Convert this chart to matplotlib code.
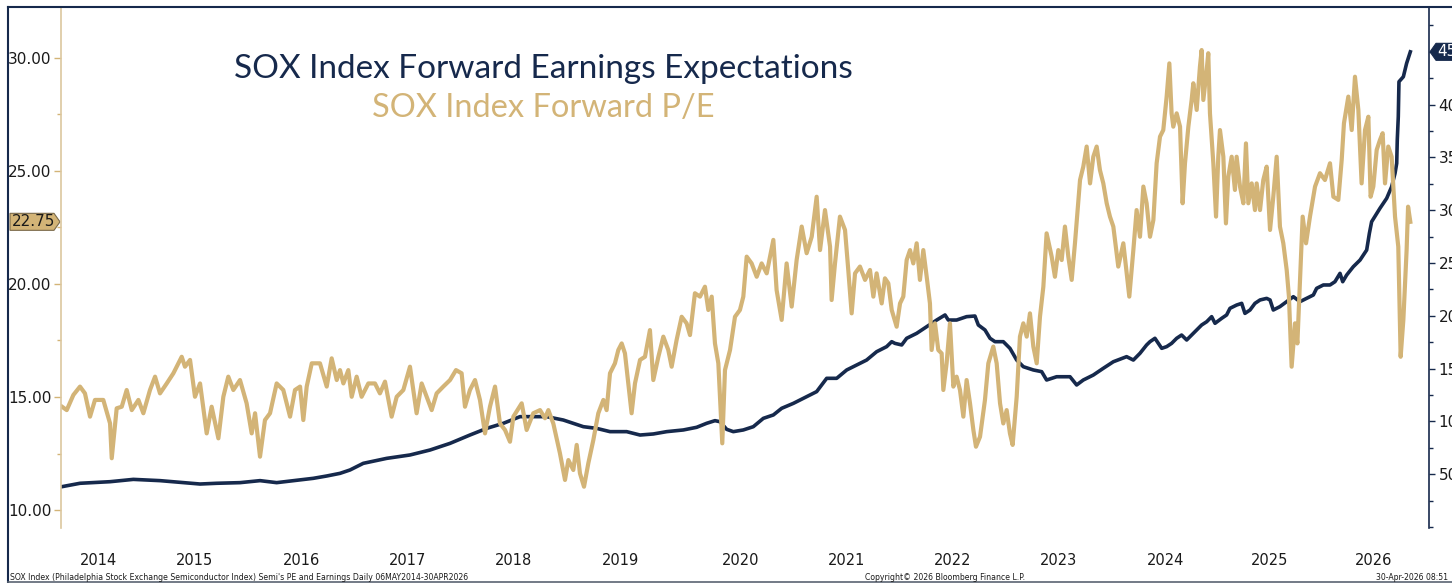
import numpy as np
import matplotlib.pyplot as plt
from matplotlib.lines import Line2D
from matplotlib.patches import Polygon
from matplotlib.ticker import MultipleLocator, FormatStrFormatter, FixedLocator

navy = "#16294C"
tan = "#D3B477"

# SOX forward P/E (left axis), decimal years
pe_t = [2014.345, 2014.387, 2014.446, 2014.505, 2014.549, 2014.594, 2014.638, 2014.712, 2014.772, 2014.787,
        2014.831, 2014.876, 2014.920, 2014.965, 2015.024, 2015.068, 2015.127, 2015.172, 2015.216, 2015.276,
        2015.335, 2015.409, 2015.438, 2015.483, 2015.527, 2015.572, 2015.631, 2015.675, 2015.735, 2015.779,
        2015.823, 2015.868, 2015.927, 2015.986, 2016.031, 2016.061, 2016.105, 2016.149, 2016.194, 2016.253,
        2016.312, 2016.372, 2016.416, 2016.461, 2016.490, 2016.520, 2016.565, 2016.638, 2016.698, 2016.742,
        2016.787, 2016.816, 2016.846, 2016.890, 2016.920, 2016.964, 2017.008, 2017.068, 2017.127, 2017.171,
        2017.216, 2017.275, 2017.320, 2017.379, 2017.438, 2017.497, 2017.542, 2017.586, 2017.631, 2017.675,
        2017.734, 2017.794, 2017.847, 2017.897, 2017.927, 2017.971, 2018.016, 2018.060, 2018.105, 2018.149,
        2018.194, 2018.238, 2018.283, 2018.327, 2018.357, 2018.431, 2018.475, 2018.534, 2018.594, 2018.638,
        2018.668, 2018.712, 2018.771, 2018.816, 2018.846, 2018.890, 2018.920, 2018.949, 2018.985, 2019.023,
        2019.068, 2019.112, 2019.157, 2019.186, 2019.216, 2019.260, 2019.290, 2019.320, 2019.349, 2019.379,
        2019.408, 2019.438, 2019.483, 2019.527, 2019.571, 2019.601, 2019.646, 2019.690, 2019.734, 2019.764,
        2019.808, 2019.853, 2019.897, 2019.927, 2019.971, 2020.016, 2020.060, 2020.090, 2020.120, 2020.149,
        2020.179, 2020.214, 2020.238, 2020.283, 2020.327, 2020.371, 2020.401, 2020.431, 2020.475, 2020.520,
        2020.564, 2020.609, 2020.668, 2020.697, 2020.742, 2020.786, 2020.831, 2020.875, 2020.920, 2020.964,
        2021.009, 2021.053, 2021.083, 2021.127, 2021.172, 2021.186, 2021.216, 2021.260, 2021.305, 2021.334,
        2021.364, 2021.394, 2021.438, 2021.483, 2021.527, 2021.557, 2021.586, 2021.631, 2021.660, 2021.690,
        2021.720, 2021.764, 2021.794, 2021.823, 2021.853, 2021.883, 2021.912, 2021.942, 2021.971, 2022.001,
        2022.031, 2022.060, 2022.075, 2022.105, 2022.134, 2022.164, 2022.179, 2022.208, 2022.238, 2022.268,
        2022.297, 2022.327, 2022.357, 2022.386, 2022.416, 2022.446, 2022.469, 2022.505, 2022.549, 2022.579,
        2022.623, 2022.653, 2022.683, 2022.712, 2022.742, 2022.771, 2022.795, 2022.831, 2022.860, 2022.890,
        2022.920, 2022.949, 2022.979, 2023.009, 2023.038, 2023.068, 2023.097, 2023.142, 2023.171, 2023.201,
        2023.231, 2023.260, 2023.290, 2023.320, 2023.349, 2023.394, 2023.423, 2023.453, 2023.483, 2023.512,
        2023.542, 2023.571, 2023.601, 2023.631, 2023.660, 2023.690, 2023.734, 2023.779, 2023.832, 2023.868,
        2023.897, 2023.927, 2023.957, 2023.986, 2024.016, 2024.046, 2024.075, 2024.105, 2024.134, 2024.164,
        2024.188, 2024.208, 2024.223, 2024.253, 2024.283, 2024.306, 2024.327, 2024.357, 2024.386, 2024.401,
        2024.431, 2024.460, 2024.475, 2024.490, 2024.520, 2024.534, 2024.549, 2024.579, 2024.603, 2024.623,
        2024.638, 2024.668, 2024.691, 2024.712, 2024.742, 2024.771, 2024.786, 2024.816, 2024.846, 2024.869,
        2024.890, 2024.920, 2024.949, 2024.964, 2024.994, 2025.023, 2025.053, 2025.083, 2025.112, 2025.142,
        2025.171, 2025.201, 2025.231, 2025.251, 2025.275, 2025.305, 2025.326, 2025.343, 2025.373, 2025.403,
        2025.438, 2025.483, 2025.527, 2025.571, 2025.616, 2025.646, 2025.690, 2025.720, 2025.740, 2025.779,
        2025.809, 2025.838, 2025.868, 2025.897, 2025.927, 2025.957, 2025.977, 2026.001, 2026.031, 2026.060,
        2026.084, 2026.105, 2026.134, 2026.164, 2026.194, 2026.223, 2026.244, 2026.268, 2026.297, 2026.310,
        2026.330]
pe_v = [14.57, 14.42, 15.09, 15.46, 15.16, 14.13, 14.87, 14.87, 13.83, 12.29,
        14.50, 14.57, 15.31, 14.42, 14.87, 14.28, 15.31, 15.90, 15.16, 15.60,
        16.05, 16.78, 16.34, 16.64, 15.01, 15.60, 13.39, 14.57, 13.17, 15.01,
        15.90, 15.31, 15.75, 14.72, 13.39, 14.28, 12.36, 13.98, 14.28, 15.60,
        15.31, 14.13, 15.31, 15.46, 13.98, 15.46, 16.49, 16.49, 15.46, 16.71,
        15.75, 16.19, 15.60, 16.19, 15.01, 15.90, 15.01, 15.60, 15.60, 15.16,
        15.68, 14.13, 15.01, 15.31, 16.34, 14.28, 15.60, 15.01, 14.42, 15.16,
        15.46, 15.75, 16.19, 16.05, 14.57, 15.31, 15.75, 14.87, 13.39, 14.57,
        15.46, 13.83, 13.54, 13.02, 14.13, 14.72, 13.54, 14.28, 14.42, 14.06,
        14.42, 13.83, 12.51, 11.33, 12.21, 11.77, 12.88, 11.62, 11.03, 12.06,
        13.10, 14.28, 14.87, 14.42, 16.05, 16.49, 17.08, 17.37, 16.93, 15.60,
        14.28, 15.60, 16.64, 16.78, 17.96, 15.75, 16.78, 17.67, 17.08, 16.34,
        17.52, 18.55, 18.26, 17.74, 19.59, 19.44, 19.88, 18.85, 19.44, 17.37,
        16.49, 12.95, 16.19, 17.08, 18.55, 18.85, 19.44, 21.21, 20.91, 20.32,
        20.91, 20.47, 21.95, 19.73, 18.41, 20.91, 19.00, 21.06, 22.54, 21.36,
        22.09, 23.86, 21.50, 23.27, 21.65, 19.29, 20.91, 22.98, 22.39, 20.62,
        18.70, 20.47, 20.77, 20.18, 20.62, 19.44, 20.47, 19.14, 20.25, 20.03,
        18.85, 18.11, 19.14, 19.44, 21.06, 21.50, 20.91, 21.80, 20.18, 21.50,
        20.32, 19.14, 17.08, 18.26, 17.08, 16.93, 15.31, 16.49, 18.26, 15.46,
        15.90, 15.31, 14.13, 15.75, 14.72, 13.54, 12.80, 13.24, 14.87, 16.49,
        17.23, 16.49, 14.72, 13.83, 14.42, 13.39, 12.88, 15.01, 17.67, 18.26,
        17.67, 18.70, 17.23, 16.49, 18.55, 19.88, 22.24, 21.21, 20.32, 21.50,
        21.06, 22.54, 21.21, 20.18, 21.80, 24.60, 25.19, 26.08, 24.45, 25.63,
        26.08, 25.04, 24.45, 23.57, 22.98, 22.54, 20.77, 21.80, 19.44, 21.50,
        23.27, 22.09, 24.31, 23.57, 22.09, 22.83, 25.34, 26.52, 26.81, 28.29,
        29.76, 27.55, 26.96, 27.55, 26.96, 23.57, 25.34, 26.96, 28.14, 28.88,
        27.70, 29.62, 30.35, 28.14, 29.47, 30.21, 27.55, 25.34, 22.98, 25.63,
        26.81, 25.63, 22.68, 24.75, 25.63, 24.16, 25.63, 24.31, 23.57, 26.22,
        23.57, 24.45, 23.27, 24.45, 23.27, 24.60, 25.19, 22.39, 23.86, 25.63,
        22.54, 21.80, 20.62, 19.44, 16.34, 18.26, 17.37, 19.44, 22.98, 21.80,
        22.98, 24.31, 24.90, 24.60, 25.34, 23.86, 23.72, 25.49, 27.11, 28.29,
        26.81, 29.17, 27.70, 24.45, 26.81, 27.40, 23.86, 24.31, 25.93, 26.37,
        26.67, 24.45, 26.08, 25.63, 22.98, 21.65, 16.78, 18.41, 21.50, 23.42,
        22.75]

# SOX forward earnings (right axis)
eps_t = [2014.345, 2014.505, 2014.772, 2014.979, 2015.216, 2015.424, 2015.572, 2015.720, 2015.927, 2016.105,
         2016.253, 2016.401, 2016.579, 2016.698, 2016.816, 2016.905, 2017.023, 2017.231, 2017.438, 2017.616,
         2017.794, 2017.971, 2018.120, 2018.268, 2018.416, 2018.534, 2018.653, 2018.801, 2018.979, 2019.097,
         2019.216, 2019.246, 2019.364, 2019.483, 2019.601, 2019.720, 2019.868, 2019.986, 2020.075, 2020.149,
         2020.194, 2020.253, 2020.312, 2020.401, 2020.490, 2020.579, 2020.668, 2020.742, 2020.846, 2020.964,
         2021.053, 2021.142, 2021.231, 2021.320, 2021.408, 2021.497, 2021.586, 2021.675, 2021.720, 2021.749,
         2021.809, 2021.853, 2021.942, 2022.031, 2022.120, 2022.194, 2022.223, 2022.297, 2022.386, 2022.460,
         2022.490, 2022.549, 2022.594, 2022.638, 2022.712, 2022.771, 2022.831, 2022.890, 2022.979, 2023.053,
         2023.097, 2023.186, 2023.246, 2023.305, 2023.364, 2023.423, 2023.512, 2023.601, 2023.690, 2023.808,
         2023.868, 2023.927, 2023.986, 2024.016, 2024.060, 2024.120, 2024.164, 2024.208, 2024.253, 2024.297,
         2024.342, 2024.386, 2024.431, 2024.475, 2024.520, 2024.564, 2024.594, 2024.653, 2024.697, 2024.727,
         2024.786, 2024.831, 2024.860, 2024.905, 2024.949, 2024.994, 2025.053, 2025.083, 2025.112, 2025.171,
         2025.231, 2025.290, 2025.349, 2025.408, 2025.468, 2025.497, 2025.557, 2025.616, 2025.660, 2025.705,
         2025.729, 2025.764, 2025.823, 2025.883, 2025.942, 2025.966, 2025.986, 2026.060, 2026.120, 2026.164,
         2026.194, 2026.209, 2026.214, 2026.223, 2026.229, 2026.268, 2026.297, 2026.330]
eps_v = [38.2, 41.4, 42.9, 45.1, 43.9, 42.0, 40.7, 41.4, 42.0, 43.9,
         42.0, 43.9, 46.1, 48.3, 50.8, 54.0, 60.3, 65.0, 68.2, 72.9,
         79.2, 87.1, 93.4, 98.2, 104.5, 104.5, 104.5, 101.3, 95.0, 93.4,
         90.3, 90.3, 90.3, 87.1, 88.1, 90.3, 91.9, 94.4, 98.2, 100.7,
         99.7, 92.5, 90.3, 91.9, 95.0, 102.9, 106.1, 112.4, 117.1, 123.4,
         128.2, 140.8, 140.8, 148.7, 153.4, 158.1, 166.0, 170.8, 175.5, 173.9,
         172.4, 178.7, 183.4, 189.7, 196.0, 200.8, 196.0, 196.0, 199.2, 199.8,
         191.3, 186.6, 178.7, 175.5, 175.5, 169.2, 158.1, 151.8, 148.7, 147.1,
         139.2, 142.3, 142.3, 142.3, 134.5, 139.2, 143.9, 150.3, 156.5, 161.3,
         158.1, 164.5, 172.4, 175.5, 178.7, 169.2, 170.8, 173.9, 178.7, 181.8,
         177.1, 181.8, 186.6, 191.3, 194.4, 199.2, 192.9, 197.6, 200.8, 207.1,
         210.2, 211.8, 202.3, 205.5, 211.8, 215.0, 216.5, 215.0, 205.5, 208.7,
         213.4, 218.1, 213.4, 216.5, 219.7, 226.0, 229.2, 229.2, 232.3, 240.2,
         232.3, 238.6, 246.5, 252.8, 262.3, 278.1, 289.1, 301.8, 311.3, 322.3,
         334.9, 344.4, 366.5, 388.6, 421.7, 426.4, 439.1, 450.0]

year_labels = ["2014", "2015", "2016", "2017", "2018", "2019", "2020",
               "2021", "2022", "2023", "2024", "2025", "2026"]
year_pos = [2014.665, 2015.527, 2016.478, 2017.420, 2018.354, 2019.305, 2020.380,
            2021.323, 2022.265, 2023.200, 2024.150, 2025.080, 2026.000]

W, H = 1452, 583
fig = plt.figure(figsize=(W / 100, H / 100), dpi=100)
ax = fig.add_axes([61 / W, 1 - 528 / H, (1429 - 61) / W, 520 / H])
ax2 = ax.twinx()
ax.set_zorder(ax2.get_zorder() + 1)
ax.patch.set_visible(False)

ax2.plot(eps_t, eps_v, color=navy, lw=2.6, solid_joinstyle="round")
ax.plot(pe_t, pe_v, color=tan, lw=3.0, solid_joinstyle="round")

ax.set_xlim(2014.336, 2026.496)
ax.set_ylim(9.204, 32.21)
ax2.set_ylim(-0.95, 491.5)

for s in ["top", "bottom", "right"]:
    ax.spines[s].set_visible(False)
for s in ["top", "bottom", "left"]:
    ax2.spines[s].set_visible(False)
ax.spines["left"].set_color("#DCC79E")
ax.spines["left"].set_linewidth(1.2)
ax2.spines["right"].set_color(navy)
ax2.spines["right"].set_linewidth(1.2)

ax.yaxis.set_major_locator(MultipleLocator(5))
ax.yaxis.set_minor_locator(MultipleLocator(2.5))
ax.yaxis.set_major_formatter(FormatStrFormatter("%.2f"))
ax.tick_params(axis="y", which="major", colors=tan, labelcolor="#1a1a1a",
               labelsize=11, length=5, width=1, pad=2)
ax.tick_params(axis="y", which="minor", colors=tan, length=3, width=1)

# 450 sits under the last-value flag, so it only gets a minor tick
ax2.yaxis.set_major_locator(FixedLocator([50, 100, 150, 200, 250, 300, 350, 400]))
ax2.yaxis.set_minor_locator(MultipleLocator(25))
ax2.yaxis.set_major_formatter(FormatStrFormatter("%d"))
ax2.tick_params(axis="y", which="major", colors=navy, labelcolor="#1a1a1a",
                labelsize=11, length=4, width=1, pad=3)
ax2.tick_params(axis="y", which="minor", colors=navy, length=3, width=1)

ax.set_xticks(year_pos, year_labels)
ax.tick_params(axis="x", length=0, labelsize=10.5, labelcolor="#1a1a1a", pad=18)
ax2.tick_params(axis="x", length=0, labelbottom=False)

# titles
fig.text(543 / W, 1 - 69 / H, "SOX Index Forward Earnings Expectations", color=navy,
         family="Lato", fontsize=24, ha="center", va="center")
fig.text(543 / W, 1 - 108 / H, "SOX Index Forward P/E", color=tan,
         family="Lato", fontsize=23.5, ha="center", va="center")

# footer
fig.text(10 / W, 1 - 577 / H,
         "SOX Index (Philadelphia Stock Exchange Semiconductor Index) Semi's PE and Earnings Daily 06MAY2014-30APR2026",
         fontsize=5.6, color="#1a1a1a", ha="left", va="center")
fig.text(945 / W, 1 - 577 / H, "Copyright\u00a9 2026 Bloomberg Finance L.P.",
         fontsize=5.6, color="#1a1a1a", ha="center", va="center")
fig.text(1376 / W, 1 - 577 / H, "30-Apr-2026 08:51",
         fontsize=5.6, color="#1a1a1a", ha="left", va="center")

# outer frame
fig.add_artist(Line2D([8 / W, 8 / W], [1 - 582 / H, 1 - 7 / H], color=navy, lw=1.5,
                      transform=fig.transFigure))
fig.add_artist(Line2D([8 / W, 1], [1 - 7 / H, 1 - 7 / H], color=navy, lw=1.5,
                      transform=fig.transFigure))
fig.add_artist(Line2D([8 / W, 1], [1 - 582 / H, 1 - 582 / H], color="#5a6472", lw=1.2,
                      transform=fig.transFigure))

# last-value flags
fig.canvas.draw()
y_pe = ax.transData.transform((pe_t[-1], pe_v[-1]))[1]
y_ep = ax2.transData.transform((eps_t[-1], eps_v[-1]))[1]
x_l = ax.transAxes.transform((0, 0))[0]
x_r = ax.transAxes.transform((1, 0))[0]

h = 8.5
pts = [(10, y_pe - h), (x_l - 7, y_pe - h), (x_l - 1, y_pe), (x_l - 7, y_pe + h), (10, y_pe + h)]
fig.add_artist(Polygon([(px / W, py / H) for px, py in pts], closed=True, facecolor=tan,
                       edgecolor="#7a6a4a", lw=0.8, transform=fig.transFigure))
fig.text(12 / W, y_pe / H, f"{pe_v[-1]:.2f}", fontsize=11, color="#1a1a1a",
         ha="left", va="center")

pts = [(x_r + 1, y_ep), (x_r + 7, y_ep - h), (W + 5, y_ep - h), (W + 5, y_ep + h), (x_r + 7, y_ep + h)]
fig.add_artist(Polygon([(px / W, py / H) for px, py in pts], closed=True, facecolor=navy,
                       edgecolor=navy, lw=0.8, transform=fig.transFigure))
fig.text((x_r + 8) / W, y_ep / H, f"{eps_v[-1]:.2f}", fontsize=11, color="white",
         ha="left", va="center")

fig.savefig("out.png", dpi=100)
